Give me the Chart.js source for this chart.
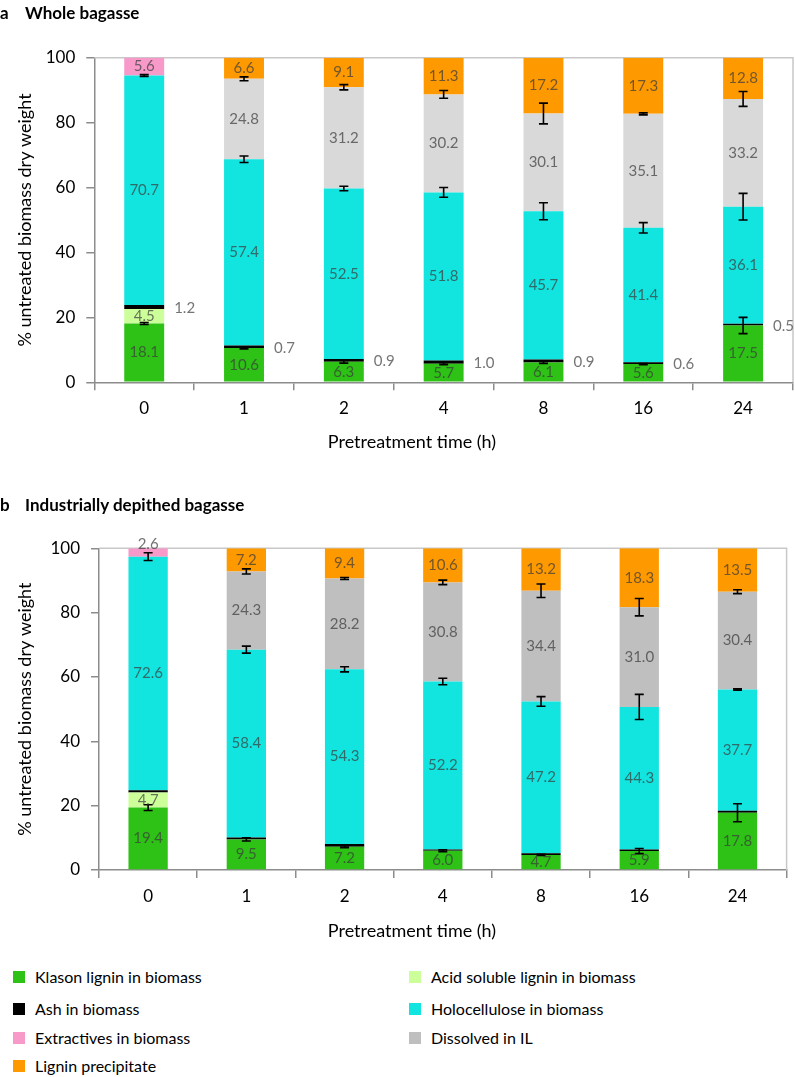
<!DOCTYPE html>
<html>
<head>
<meta charset="utf-8">
<script src="https://cdn.jsdelivr.net/npm/chart.js@4.4.1/dist/chart.umd.min.js"></script>
<style>
body { margin: 0; background: #fff; width: 795px; height: 1077px; position: relative; overflow: hidden; font-family: Lato, "Open Sans", sans-serif; }
canvas { position: absolute; left: 0; }
.titulo { position: absolute; font-weight: bold; font-size: 17px; line-height: 20px; color: #000; z-index: 2; }
.ejeX { position: absolute; left: 0; width: 824px; text-align: center; font-size: 18px; line-height: 22px; color: #000; z-index: 2; }
.leyenda { position: absolute; font-size: 16px; line-height: 18px; color: #000; white-space: nowrap; }
.leyenda span { position: absolute; left: -22px; top: 3px; width: 12px; height: 12px; }
</style>
</head>
<body>
<div class="titulo" style="left:0;top:3px;">a</div>
<div class="titulo" style="left:25px;top:3px;">Whole bagasse</div>
<canvas id="graficoA" width="795" height="470" style="top:0"></canvas>
<div class="ejeX" style="top:430px;">Pretreatment time (h)</div>
<div class="titulo" style="left:0;top:495px;">b</div>
<div class="titulo" style="left:25px;top:495px;">Industrially depithed bagasse</div>
<canvas id="graficoB" width="795" height="480" style="top:470px"></canvas>
<div class="ejeX" style="top:919px;">Pretreatment time (h)</div>
<div id="leyenda"></div>
<script>
// DATOS

var tiempos = ["0", "1", "2", "4", "8", "16", "24"];
var series = ["Klason lignin in biomass", "Acid soluble lignin in biomass", "Ash in biomass",
    "Holocellulose in biomass", "Extractives in biomass", "Dissolved in IL", "Lignin precipitate"];

// a - Whole bagasse
var klasonA = [18.1, 10.6, 6.3, 5.7, 6.1, 5.6, 17.5];
var acidoA = [4.5, 0, 0, 0, 0, 0, 0];
var cenizaA = [1.2, 0.7, 0.9, 1.0, 0.9, 0.6, 0.5];
var holoA = [70.7, 57.4, 52.5, 51.8, 45.7, 41.4, 36.1];
var extractA = [5.6, 0, 0, 0, 0, 0, 0];
var disueltoA = [0, 24.8, 31.2, 30.2, 30.1, 35.1, 33.2];
var precipA = [0, 6.6, 9.1, 11.3, 17.2, 17.3, 12.8];
var errKlasonA = [0.3, 0.3, 0.4, 0.3, 0.3, 0.2, 2.5];
var errHoloA = [0.3, 1.0, 0.7, 1.5, 2.6, 1.6, 4.1];
var errDisueltoA = [null, 0.6, 0.8, 1.2, 3.2, 0.3, 2.3];

// b - Industrially depithed bagasse
var klasonB = [19.4, 9.5, 7.2, 6.0, 4.7, 5.9, 17.8];
var acidoB = [4.7, 0, 0, 0, 0, 0, 0];
var cenizaB = [0.7, 0.6, 0.9, 0.4, 0.5, 0.5, 0.6];
var holoB = [72.6, 58.4, 54.3, 52.2, 47.2, 44.3, 37.7];
var extractB = [2.6, 0, 0, 0, 0, 0, 0];
var disueltoB = [0, 24.3, 28.2, 30.8, 34.4, 31.0, 30.4];
var precipB = [0, 7.2, 9.4, 10.6, 13.2, 18.3, 13.5];
var errKlasonB = [0.9, 0.5, 0.3, 0.3, 0.2, 0.8, 2.8];
var errHoloB = [1.2, 1.1, 0.8, 1.0, 1.5, 3.9, 0.2];
var errDisueltoB = [null, 0.8, 0.3, 0.7, 2.1, 2.7, 0.6];

// ESTILOS
var fuente = "Lato, 'Open Sans', sans-serif";
var gris = "#8c8c8c";
var coloresA = ["#2dc215", "#ccff99", "#000000", "#12e4df", "#f799c9", "#d9d9d9", "#ff9900"];
var coloresB = ["#2dc215", "#ccff99", "#000000", "#12e4df", "#f799c9", "#bfbfbf", "#ff9900"];

// marco gris claro arriba y a la derecha
var marco = {
    id: "marco",
    beforeDatasetsDraw: function (chart) {
        var a = chart.chartArea, ctx = chart.ctx;
        ctx.save();
        ctx.strokeStyle = "#c8c8c8";
        ctx.lineWidth = 1.5;
        ctx.beginPath();
        ctx.moveTo(a.left, a.top);
        ctx.lineTo(a.right, a.top);
        ctx.lineTo(a.right, a.bottom);
        ctx.stroke();
        ctx.restore();
    }
};

// etiquetas con el valor de cada segmento
var etiquetas = {
    id: "etiquetas",
    afterDatasetsDraw: function (chart) {
        var ctx = chart.ctx;
        ctx.save();
        ctx.font = "15px " + fuente;
        ctx.fillStyle = "rgba(60,60,60,0.72)";
        chart.data.datasets.forEach(function (ds, i) {
            if (ds.etiqueta === "no") return;
            chart.getDatasetMeta(i).data.forEach(function (el, j) {
                var v = ds.data[j];
                if (!v) return;
                var txt = v.toFixed(1);
                var alto = el.base - el.y;
                if (ds.etiqueta === "derecha") {
                    ctx.textAlign = "left";
                    ctx.textBaseline = "middle";
                    ctx.fillStyle = "rgba(70,70,70,0.75)";
                    ctx.fillText(txt, el.x + el.width / 2 + 10, el.y + alto / 2 + 1);
                    ctx.fillStyle = "rgba(60,60,60,0.72)";
                } else if (alto < 13) {
                    ctx.textAlign = "center";
                    ctx.textBaseline = "bottom";
                    ctx.fillText(txt, el.x, el.y + 3);
                } else {
                    ctx.textAlign = "center";
                    ctx.textBaseline = "middle";
                    ctx.fillText(txt, el.x, el.y + alto / 2);
                }
            });
        });
        ctx.restore();
    }
};

// barras de error en la parte superior de cada segmento
var barrasError = {
    id: "barrasError",
    afterDatasetsDraw: function (chart) {
        var ctx = chart.ctx, y = chart.scales.y;
        ctx.save();
        ctx.strokeStyle = "#000";
        ctx.lineWidth = 1.6;
        chart.data.datasets.forEach(function (ds, i) {
            if (!ds.errores) return;
            chart.getDatasetMeta(i).data.forEach(function (el, j) {
                var e = ds.errores[j];
                if (e === null || e === undefined) return;
                var tope = 0;
                for (var k = 0; k <= i; k++) tope += chart.data.datasets[k].data[j];
                var y1 = y.getPixelForValue(tope + e);
                var y2 = y.getPixelForValue(tope - e);
                ctx.beginPath();
                ctx.moveTo(el.x, y1); ctx.lineTo(el.x, y2);
                ctx.moveTo(el.x - 4.5, y1); ctx.lineTo(el.x + 4.5, y1);
                ctx.moveTo(el.x - 4.5, y2); ctx.lineTo(el.x + 4.5, y2);
                ctx.stroke();
            });
        });
        ctx.restore();
    }
};

function crearGrafico(id, datos, colores, errores, etiq, geo) {
    var conjuntos = series.map(function (nombre, i) {
        return {
            label: nombre,
            data: datos[i],
            backgroundColor: colores[i],
            borderWidth: 0,
            barPercentage: 0.4,
            categoryPercentage: 1,
            errores: errores[i],
            etiqueta: etiq[i]
        };
    });
    new Chart(document.getElementById(id), {
        type: "bar",
        data: { labels: tiempos, datasets: conjuntos },
        options: {
            responsive: false,
            animation: false,
            devicePixelRatio: 1,
            layout: { padding: { top: geo.arriba, right: geo.derecha, left: 0, bottom: 0 } },
            plugins: { legend: { display: false }, tooltip: { enabled: false } },
            scales: {
                x: {
                    stacked: true,
                    grid: { display: true, drawOnChartArea: false, drawTicks: true, tickLength: 8, color: gris, lineWidth: 1.5, offset: true },
                    border: { color: gris, width: 1.5 },
                    ticks: { color: "#000", font: { family: fuente, size: 17 }, padding: geo.padX },
                    title: { display: false },
                    afterFit: function (s) { s.height = geo.altoX; }
                },
                y: {
                    stacked: true,
                    min: 0,
                    max: 100,
                    grid: { display: true, drawOnChartArea: false, drawTicks: true, tickLength: 8, color: gris, lineWidth: 1.5 },
                    border: { color: gris, width: 1.5 },
                    ticks: { stepSize: 20, color: "#000", font: { family: fuente, size: 17 }, padding: 11 },
                    title: { display: true, text: "% untreated biomass dry weight", color: "#000", font: { family: fuente, size: 18 }, padding: { top: 14, bottom: 0 } },
                    afterFit: function (s) { s.width = geo.anchoY; }
                }
            }
        },
        plugins: [marco, barrasError, etiquetas]
    });
}

function crearLeyenda() {
    var cont = document.getElementById("leyenda");
    var filas = [968, 1000, 1029, 1057];
    var columnas = [35, 431];
    series.forEach(function (nombre, i) {
        var d = document.createElement("div");
        d.className = "leyenda";
        d.style.left = columnas[i % 2] + "px";
        d.style.top = filas[Math.floor(i / 2)] + "px";
        d.innerHTML = '<span style="background:' + coloresB[i] + '"></span>' + nombre;
        cont.appendChild(d);
    });
}

crearGrafico("graficoA",
    [klasonA, acidoA, cenizaA, holoA, extractA, disueltoA, precipA],
    coloresA,
    [errKlasonA, null, null, errHoloA, null, errDisueltoA, null],
    ["centro", "centro", "derecha", "centro", "centro", "centro", "centro"],
    { arriba: 57.7, derecha: 2, altoX: 87.7, anchoY: 94.3, padX: 8 });

crearGrafico("graficoB",
    [klasonB, acidoB, cenizaB, holoB, extractB, disueltoB, precipB],
    coloresB,
    [errKlasonB, null, null, errHoloB, null, errDisueltoB, null],
    ["centro", "centro", "no", "centro", "centro", "centro", "centro"],
    { arriba: 78.3, derecha: 8.4, altoX: 80, anchoY: 99, padX: 8.8 });

crearLeyenda();
</script>
</body>
</html>
